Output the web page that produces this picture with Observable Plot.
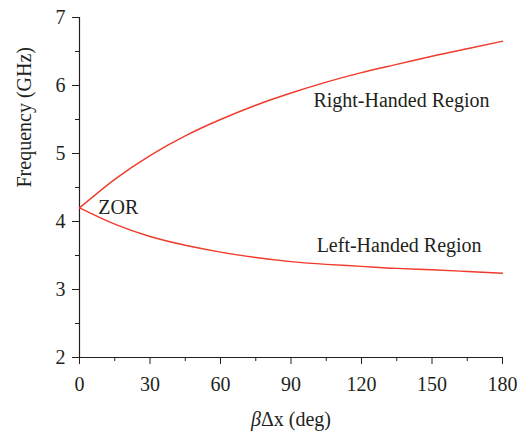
<!DOCTYPE html>
<html>
<head>
<meta charset="utf-8">
<script src="https://cdn.jsdelivr.net/npm/d3@7"></script>
<script src="https://cdn.jsdelivr.net/npm/@observablehq/plot@0.6"></script>
<style>
  html, body { margin: 0; padding: 0; background: #fff; }
</style>
</head>
<body>
<div id="chart"></div>
<script>
const phase = [0, 15, 30, 45, 60, 75, 90, 105, 120, 135, 150, 165, 180];
const rightHanded = [4.2, 4.62, 4.97, 5.26, 5.50, 5.71, 5.89, 6.05, 6.19, 6.31, 6.43, 6.54, 6.65];
const leftHanded  = [4.2, 3.96, 3.78, 3.65, 3.55, 3.47, 3.41, 3.37, 3.34, 3.31, 3.29, 3.265, 3.24];
const xMajor = [0, 30, 60, 90, 120, 150, 180];
const xMinor = [15, 45, 75, 105, 135, 165];
const yMajor = [2, 3, 4, 5, 6, 7];
const yMinor = [2.5, 3.5, 4.5, 5.5, 6.5];
const zorLabel = [{x: 8, y: 4.2, label: "ZOR"}];
const regionLabels = [
  {x: 137, y: 5.78, label: "Right-Handed Region"},
  {x: 136, y: 3.65, label: "Left-Handed Region"}
];

const rh = phase.map((x, i) => ({x, y: rightHanded[i]}));
const lh = phase.map((x, i) => ({x, y: leftHanded[i]}));

const ink = "#231f20";
const red = "#ef3b2c";
const font = "'Liberation Serif', 'Times New Roman', serif";

const chart = Plot.plot({
  width: 528,
  height: 442,
  marginLeft: 79,
  marginRight: 26,
  marginTop: 17,
  marginBottom: 85,
  style: {fontFamily: font, color: ink, background: "#fff"},
  x: {domain: [0, 180]},
  y: {domain: [2, 7]},
  marks: [
    Plot.axisX({ticks: xMajor, tickSize: 7, tickPadding: 12, fontSize: 20, label: null, stroke: ink, fill: ink, tickFormat: d3.format("d")}),
    Plot.axisX({ticks: xMinor, tickSize: 4, tickFormat: () => "", label: null, stroke: ink}),
    Plot.axisY({ticks: yMajor, tickSize: 7, tickPadding: 7, fontSize: 20, label: null, stroke: ink, fill: ink, tickFormat: d3.format("d")}),
    Plot.axisY({ticks: yMinor, tickSize: 4, tickFormat: () => "", label: null, stroke: ink}),
    Plot.ruleY([2], {stroke: ink, strokeWidth: 1.2}),
    Plot.ruleX([0], {stroke: ink, strokeWidth: 1.2}),
    Plot.line(rh, {x: "x", y: "y", stroke: red, strokeWidth: 1.4, curve: "natural"}),
    Plot.line(lh, {x: "x", y: "y", stroke: red, strokeWidth: 1.4, curve: "natural"}),
    Plot.text(zorLabel, {x: "x", y: "y", text: "label", textAnchor: "start", fontSize: 20, fill: ink}),
    Plot.text(regionLabels, {x: "x", y: "y", text: "label", textAnchor: "middle", fontSize: 20, fill: ink, letterSpacing: "0.8px"}),
    Plot.text(["βΔx (deg)"], {frameAnchor: "bottom", dy: 68, fontSize: 20, fill: ink}),
    Plot.text(["Frequency (GHz)"], {frameAnchor: "left", dx: -55, rotate: -90, fontSize: 20, fill: ink})
  ]
});

document.getElementById("chart").appendChild(chart);

// Italicize the β in the x-axis label
chart.querySelectorAll("text").forEach(t => {
  if (t.textContent === "βΔx (deg)") {
    t.textContent = "";
    const ns = "http://www.w3.org/2000/svg";
    const a = document.createElementNS(ns, "tspan");
    a.setAttribute("font-style", "italic");
    a.textContent = "β";
    const b = document.createElementNS(ns, "tspan");
    b.textContent = "Δx (deg)";
    t.appendChild(a);
    t.appendChild(b);
  }
});
</script>
</body>
</html>
